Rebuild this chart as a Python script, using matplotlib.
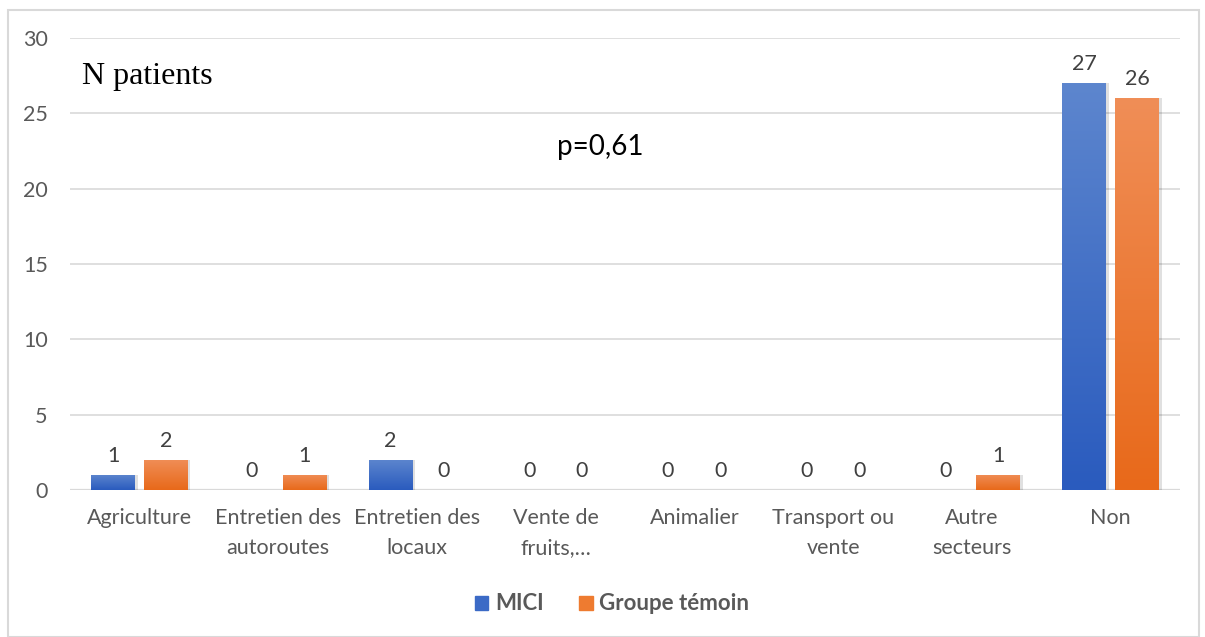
import numpy as np
import matplotlib
matplotlib.use('Agg')
import matplotlib.pyplot as plt
from matplotlib.patches import Rectangle
from matplotlib.colors import LinearSegmentedColormap

# data
categories = ['Agriculture', 'Entretien des\nautoroutes', 'Entretien des\nlocaux',
              'Vente de\nfruits,…', 'Animalier', 'Transport ou\nvente',
              'Autre\nsecteurs', 'Non']
mici = [1, 0, 2, 0, 0, 0, 0, 27]
temoin = [2, 1, 0, 0, 0, 0, 1, 26]
series_names = ['MICI', 'Groupe témoin']
yticks = [0, 5, 10, 15, 20, 25, 30]

plt.rcParams['font.family'] = ['Lato', 'DejaVu Sans']

fig = plt.figure(figsize=(12.05, 6.37), dpi=100)
ax = fig.add_axes([70 / 1205, 1 - 490 / 637, 1110 / 1205, 452 / 637])

# outer chart border
fig.patches.append(Rectangle((8 / 1205, 0), 1191 / 1205, 627 / 637,
                             transform=fig.transFigure, fill=False,
                             edgecolor='#D9D9D9', linewidth=1.5))

x = np.arange(len(categories))
w = 0.315
gap = 0.065

blue_cmap = LinearSegmentedColormap.from_list('b', ['#2A5BBE', '#5D86CE'])
orange_cmap = LinearSegmentedColormap.from_list('o', ['#E8691A', '#F08E57'])


def gradient_bars(xs, vals, color, cmap):
    bars = ax.bar(xs, vals, w, color=color, zorder=3)
    for b in bars:
        h = b.get_height()
        if h <= 0:
            continue
        # soft shadow
        ax.add_patch(Rectangle((b.get_x() + 0.01, -0.05), b.get_width() + 0.01,
                               h + 0.05, color='#000000', alpha=0.12,
                               zorder=2, linewidth=0))
        grad = np.linspace(0, 1, 256).reshape(-1, 1)
        im = ax.imshow(grad, cmap=cmap, aspect='auto', origin='lower',
                       extent=(b.get_x(), b.get_x() + b.get_width(), 0, h),
                       zorder=3.5)
        im.set_clip_path(b)
    return bars


pos_m = x - w / 2 - gap / 2
pos_t = x + w / 2 + gap / 2
gradient_bars(pos_m, mici, '#4472C4', blue_cmap)
gradient_bars(pos_t, temoin, '#ED7D31', orange_cmap)

for xs, vals in [(pos_m, mici), (pos_t, temoin)]:
    for xi, v in zip(xs, vals):
        ax.text(xi, v + 0.6, str(v), ha='center', va='bottom',
                fontsize=15.5, color='#404040', zorder=5)

ax.set_xlim(-0.5, len(categories) - 0.5)
ax.set_ylim(0, 30)
ax.set_yticks(yticks)
ax.set_yticklabels([str(t) for t in yticks], fontsize=15.5, color='#595959')
ax.set_xticks(x)
ax.set_xticklabels(categories, fontsize=15.5, color='#595959', linespacing=1.6)
ax.tick_params(axis='both', length=0)
ax.tick_params(axis='y', pad=16)
ax.tick_params(axis='x', pad=13)
ax.grid(axis='y', color='#D9D9D9', linewidth=1.2, zorder=0)
ax.set_axisbelow(True)
for s in ax.spines.values():
    s.set_visible(False)
ax.axhline(0, color='#D9D9D9', linewidth=1.6, zorder=1)

ax.text(0.011, 0.915, 'N patients', transform=ax.transAxes, fontsize=23,
        family='Liberation Serif', color='black', va='center')
ax.text(0.478, 0.759, 'p=0,61', transform=ax.transAxes, fontsize=20,
        color='black', va='center', ha='center')

handles = [Rectangle((0, 0), 1, 1, color='#3B6AC6'),
           Rectangle((0, 0), 1, 1, color='#EE7B30')]
leg = fig.legend(handles, series_names, loc='center', ncol=2,
                 bbox_to_anchor=(0.508, 1 - 604 / 637), frameon=False,
                 prop={'size': 16, 'weight': 'bold'}, handlelength=0.6,
                 handleheight=0.6, handletextpad=0.3, columnspacing=1.6)
for t in leg.get_texts():
    t.set_color('#595959')

fig.savefig('out.png', dpi=100)
